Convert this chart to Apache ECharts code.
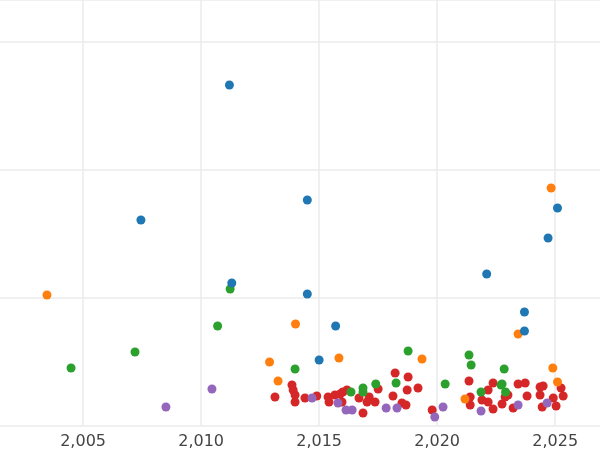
<!DOCTYPE html>
<html><head><meta charset="utf-8">
<script src="https://cdn.jsdelivr.net/npm/echarts@6/dist/echarts.min.js"></script>
<style>html,body{margin:0;padding:0;background:#fff}#c{width:600px;height:450px}</style>
</head><body><div id="c"></div>
<script>
var yearTicks = [2005, 2010, 2015, 2020, 2025];
var blue = [[2011.2,341],[2007.45,206],[2014.5,226],[2011.3,143],[2014.5,132],[2015.7,100],[2015.0,66],
  [2022.1,152],[2023.7,114],[2023.7,95],[2024.7,188],[2025.1,218]];
var orange = [[2003.47,131],[2014.0,102],[2012.9,64],[2013.26,45],[2015.84,68],[2019.36,67],[2023.43,92],
  [2024.83,238],[2024.9,58],[2025.1,44],[2021.18,27]];
var green = [[2004.49,58],[2007.2,74],[2010.7,100],[2011.23,137],[2013.98,57],[2016.86,38],[2016.86,34],
  [2017.4,42],[2018.26,43],[2018.77,75],[2020.34,42],[2021.35,71],[2021.44,61],[2022.84,57],[2021.86,34],
  [2022.71,41],[2016.35,34],[2022.75,42],[2022.9,34]];
var purple = [[2008.51,19],[2010.46,37],[2014.7,28],[2015.8,23],[2016.14,16],[2016.4,16],[2017.84,18],
  [2018.3,18],[2019.9,9],[2020.25,19],[2021.86,15],[2023.43,21],[2024.66,23]];
var red = [[2013.13,29],[2013.85,41],[2013.9,36],[2013.98,31],[2013.98,24],[2014.4,28],[2014.9,30],
  [2015.38,29],[2015.42,24],[2015.67,31],[2015.89,32],[2016.0,34],[2016.18,36],[2015.97,24],[2016.69,28],
  [2016.86,13],[2017.03,24],[2017.12,29],[2017.37,24],[2017.5,37],[2018.13,30],[2018.22,53],[2018.51,23],
  [2018.68,21],[2018.77,49],[2018.73,36],[2019.19,38],[2019.79,16],[2021.35,45],[2021.4,29],[2021.4,21],
  [2021.9,26],[2022.16,24],[2022.16,36],[2022.37,43],[2022.37,17],[2022.75,22],[2022.88,29],[2023.0,31],
  [2023.22,18],[2023.43,42],[2023.73,43],[2023.81,30],[2024.36,39],[2024.49,40],[2024.36,31],[2024.45,19],
  [2024.92,28],[2025.04,20],[2025.25,38],[2025.34,30]];

var chart = echarts.init(document.getElementById('c'));
function s(data, color) {
  return {type: 'scatter', data: data, symbolSize: 9, itemStyle: {color: color, opacity: 1}};
}
chart.setOption({
  animation: false,
  grid: {left: 0, right: 0, top: 0, bottom: 24},
  xAxis: {
    type: 'value', min: 2001.48, max: 2026.9,
    axisLine: {show: false}, axisTick: {show: false, customValues: yearTicks},
    axisLabel: {customValues: yearTicks, color: '#444', fontSize: 16, fontFamily: 'DejaVu Sans', margin: 8},
    splitLine: {lineStyle: {color: '#ebebeb', width: 1.5}}
  },
  yAxis: {
    type: 'value', min: 0, max: 426, interval: 128,
    axisLine: {show: false}, axisTick: {show: false}, axisLabel: {show: false},
    splitLine: {lineStyle: {color: '#ebebeb', width: 1.5}}
  },
  series: [s(red, '#d62728'), s(purple, '#9467bd'), s(green, '#2ca02c'), s(orange, '#ff7f0e'), s(blue, '#1f77b4')]
});
</script></body></html>
